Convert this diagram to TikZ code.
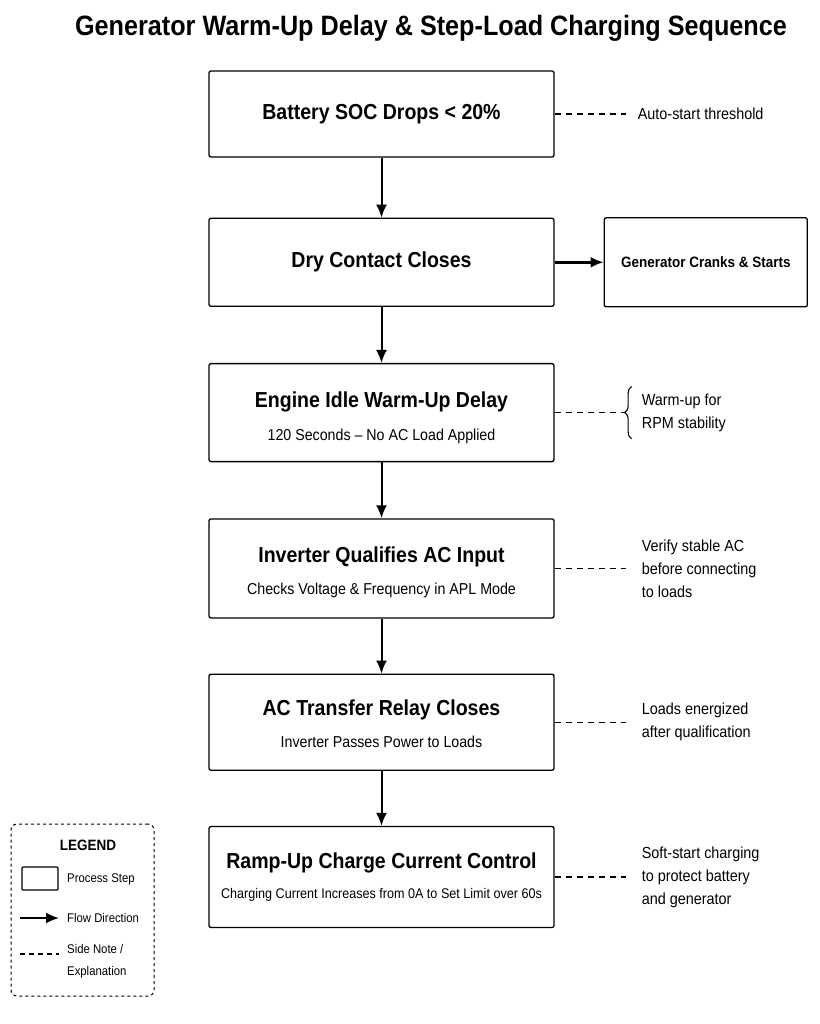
\documentclass[tikz,border=0pt]{standalone}
\usepackage{fontspec}
\setmainfont{Liberation Sans}[FakeStretch=0.9]
\usetikzlibrary{positioning,arrows.meta,decorations.pathreplacing}

\newcommand{\steptitle}{\fontsize{21.7}{25}\selectfont\bfseries}
\newcommand{\stepsub}{\fontsize{15.8}{19}\selectfont}
\newcommand{\topstrut}[1]{\rule{0pt}{#1}}

\begin{document}
\begin{tikzpicture}[x=1pt, y=-1pt, node distance=57pt, >={Latex[length=13pt,width=11pt]}]
    \tikzstyle{stepbox}=[rectangle, draw, line width=1.3pt, rounded corners=2pt, minimum width=345pt, align=center, inner sep=0pt]
    \tikzstyle{note}=[anchor=west, align=left, inner xsep=12pt, font=\fontsize{16}{23}\selectfont]
    \tikzstyle{sidenote}=[dashed, dash pattern=on 6pt off 5pt, line width=1.2pt]
    \tikzstyle{flow}=[->, line width=2pt]

    \useasboundingbox (0,0) rectangle (819,1024);

    \node (title) at (431,28) {\fontsize{28}{32}\selectfont\bfseries Generator Warm-Up Delay \& Step-Load Charging Sequence};

    % main column
    \node[stepbox, minimum height=86pt] (soc) at (381.5,114) {\steptitle Battery SOC Drops < 20\%};
    \node[stepbox, minimum height=88pt, below=60pt of soc] (contact) {\steptitle Dry Contact Closes};
    \node[stepbox, minimum height=98pt, below=56pt of contact] (warmup) {\steptitle\topstrut{27pt}Engine Idle Warm-Up Delay\\[16pt]\stepsub 120 Seconds -- No AC Load Applied};
    \node[stepbox, minimum height=99pt, below=56pt of warmup] (qualify) {\steptitle\topstrut{23pt}Inverter Qualifies AC Input\\[15pt]\stepsub Checks Voltage \& Frequency in APL Mode};
    \node[stepbox, minimum height=96pt, below=55pt of qualify] (relay) {\steptitle\topstrut{19pt}AC Transfer Relay Closes\\[15pt]\stepsub Inverter Passes Power to Loads};
    \node[stepbox, minimum height=101pt, below=55pt of relay] (ramp) {\steptitle Ramp-Up Charge Current Control\\[15pt]\fontsize{14}{17}\selectfont Charging Current Increases from 0A to Set Limit over 60s};

    \node[stepbox, minimum width=203pt, minimum height=89pt, right=49pt of contact] (crank) {\fontsize{15}{18}\selectfont\bfseries Generator Cranks \& Starts};

    \draw[flow] (soc) -- (contact);
    \draw[flow] (contact) -- (warmup);
    \draw[flow] (warmup) -- (qualify);
    \draw[flow] (qualify) -- (relay);
    \draw[flow] (relay) -- (ramp);
    \draw[flow, line width=2.5pt] (contact) -- (crank);

    % side notes
    \node[note, right=71pt of soc] (autostart) {Auto-start threshold};
    \node[note, right=77pt of warmup, inner xsep=10pt, inner ysep=7pt] (rpm) {Warm-up for\\RPM stability};
    \node[note, right=71pt of qualify, inner xsep=16pt] (verify) {Verify stable AC\\before connecting\\to loads};
    \node[note, right=71pt of relay, inner xsep=16pt] (energized) {Loads energized\\after qualification};
    \node[note, right=71pt of ramp, inner xsep=16pt] (softstart) {Soft-start charging\\to protect battery\\and generator};

    \draw[sidenote] (soc.east) -- (autostart.west);
    \draw[sidenote] (warmup.east) -- ([xshift=-8pt]rpm.west);
    \draw[line width=1.1pt, decoration={brace, amplitude=7pt}, decorate] (rpm.south west) -- (rpm.north west);
    \draw[sidenote] (verify.west -| qualify.east) -- (verify.west);
    \draw[sidenote] (energized.west -| relay.east) -- (energized.west);
    \draw[sidenote] (softstart.west -| ramp.east) -- (softstart.west);

    % legend
    \node[draw, dashed, line width=1pt, rounded corners=6pt, minimum width=143pt, minimum height=172pt] (legend) at (82.5,910) {};
    \node[font=\fontsize{15}{18}\selectfont\bfseries] (legendtitle) at (88,845) {LEGEND};
    \node[draw, line width=1.2pt, rounded corners=1pt, minimum width=36pt, minimum height=23pt] (lgbox) at (40,878.5) {};
    \node[anchor=west, inner sep=0pt, font=\fontsize{12.6}{16}\selectfont] (lgboxtext) at (67,879) {Process Step};
    \coordinate (lgarrowstart) at (20,918);
    \node[anchor=west, inner sep=0pt, font=\fontsize{12.6}{16}\selectfont] (lgarrowtext) at (67,918) {Flow Direction};
    \draw[flow] (lgarrowstart) -- ([xshift=-8pt]lgarrowtext.west);
    \coordinate (lgdashstart) at (20,954);
    \node[anchor=west, align=left, inner sep=0pt, font=\fontsize{12.6}{22}\selectfont] (lgdashtext) at (67,961) {Side Note /\\Explanation};
    \draw[sidenote, dash pattern=on 5pt off 4pt] (lgdashstart) -- ([xshift=-8pt]lgdashstart -| lgdashtext.west);
\end{tikzpicture}
\end{document}
